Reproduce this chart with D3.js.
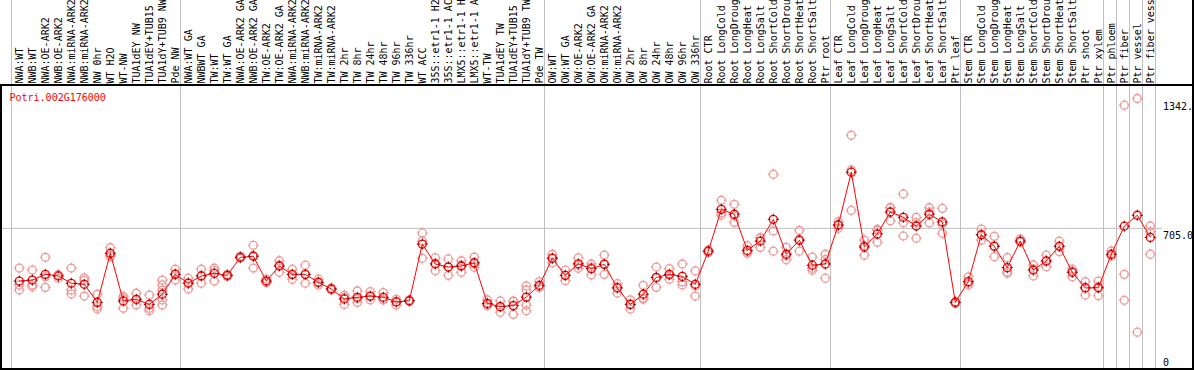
<!DOCTYPE html>
<html>
<head>
<meta charset="utf-8">
<script src="https://cdn.jsdelivr.net/npm/d3@7"></script>
<style>
  body { margin: 0; background: #fff; }
  svg { display: block; font-family: "DejaVu Sans Mono", monospace; font-size: 10px; }
  .sep line, .grid line { stroke: #c0c0c0; }
  .frame { stroke: #000; stroke-width: 1.5; shape-rendering: crispEdges; }
</style>
</head>
<body>
<script>
var sampleLabels = [
  "NWA:WT", "NWB:WT", "NWA:OE-ARK2", "NWB:OE-ARK2", "NWA:miRNA-ARK2", "NWB:miRNA-ARK2",
  "NW 0hr", "WT H2O", "WT-NW", "TUA1dEY NW", "TUA1dEY+TUB15", "TUA1dY+TUB9 NW", "Pde NW",
  "NWA:WT GA", "NWBWT GA", "TW:WT", "TW:WT GA", "NWA:OE-ARK2 GA", "NWB:OE-ARK2 GA",
  "TW:OE-ARK2", "TW:OE-ARK2 GA", "NWA:miRNA-ARK2", "NWB:miRNA-ARK2", "TW:miRNA-ARK2",
  "TW:miRNA-ARK2", "TW 2hr", "TW 8hr", "TW 24hr", "TW 48hr", "TW 96hr", "TW 336hr",
  "WT ACC", "35S::etr1-1 H2O", "35S::etr1-1 ACC", "LMX5::etr1-1 H2O", "LMX5::etr1-1 ACC",
  "WT-TW", "TUA1dEY TW", "TUA1dEY+TUB15", "TUA1dY+TUB9 TW", "Pde TW",
  "OW:WT", "OW:WT GA", "OW:OE-ARK2", "OW:OE-ARK2 GA", "OW:miRNA-ARK2", "OW:miRNA-ARK2",
  "OW 2hr", "OW 8hr", "OW 24hr", "OW 48hr", "OW 96hr", "OW 336hr",
  "Root CTR", "Root LongCold", "Root LongDrought", "Root LongHeat", "Root LongSalt",
  "Root ShortCold", "Root ShortDrought", "Root ShortHeat", "Root ShortSalt", "Ptr root",
  "Leaf CTR", "Leaf LongCold", "Leaf LongDrought", "Leaf LongHeat", "Leaf LongSalt",
  "Leaf ShortCold", "Leaf ShortDrought", "Leaf ShortHeat", "Leaf ShortSalt", "Ptr leaf",
  "Stem CTR", "Stem LongCold", "Stem LongDrought", "Stem LongHeat", "Stem LongSalt",
  "Stem ShortCold", "Stem ShortDrought", "Stem ShortHeat", "Stem ShortSalt", "Ptr shoot", "Ptr xylem",
  "Ptr phloem", "Ptr fiber", "Ptr vessel", "Ptr fiber vessel"
];
// number of samples between the grey separators
var groupSizes = [13, 28, 12, 10, 10, 11, 1, 1, 1, 1];

var meanValues = [
  443, 448, 476, 468, 432, 427, 338, 580, 345, 353, 328, 378, 476,
  432, 468, 481, 471, 560, 565, 443, 517, 476, 476, 437, 404, 355, 363, 369, 363, 340, 346,
  625, 527, 512, 517, 533, 333, 317, 322, 364, 422,
  555, 471, 528, 504, 525, 409, 328, 378, 461, 476, 466, 427,
  590, 796, 772, 594, 640, 747, 575, 644, 521, 527,
  719, 979, 611, 675, 783, 757, 714, 772, 734, 338,
  440, 671, 614, 509, 640, 497, 542, 614, 486, 409, 410,
  575, 713, 767, 658
];

var replicateValues = [
  [507, 424, 399], [497, 424, 415], [560, 464, 412], [473, 457, 473], [507, 399, 379],
  [459, 448, 369], [378, 317, 305], [607, 563, 570], [358, 309, 368], [383, 325, 351],
  [374, 309, 297], [448, 424, 399, 350, 325], [501, 448, 479],
  [457, 404, 435], [501, 432, 471], [506, 443, 494], [471, 466, 476], [560, 555, 565],
  [619, 507, 569], [452, 435, 442], [543, 486, 522], [501, 452, 475], [521, 432, 475],
  [452, 424, 435], [404, 399, 409], [374, 328, 363], [394, 338, 357], [391, 350, 366],
  [386, 350, 353], [353, 325, 342], [350, 344, 344], [680, 555, 640], [557, 494, 530],
  [552, 471, 513], [543, 486, 522], [561, 511, 527], [350, 322, 327], [345, 289, 317],
  [345, 279, 342], [419, 399, 325, 297], [440, 415, 411],
  [575, 533, 557], [497, 445, 471], [557, 506, 521], [527, 473, 512], [571, 476, 528],
  [430, 384, 413], [350, 305, 329], [422, 353, 359], [512, 412, 459], [504, 452, 472],
  [527, 440, 424], [493, 369, 419],
  [596, 583, 591], [841, 768, 779], [821, 732, 763], [617, 580, 585], [656, 609, 655],
  [969, 690, 590], [609, 548, 568], [693, 590, 649], [561, 496, 506], [575, 457, 549],
  [735, 719, 703], [1161, 990, 791], [645, 570, 618], [698, 634, 693], [804, 740, 805],
  [872, 730, 665], [757, 654, 731], [804, 729, 783], [801, 678, 723], [333, 340, 341],
  [464, 424, 432], [699, 644, 670], [663, 563, 616], [558, 481, 488], [650, 635, 635],
  [522, 468, 501], [571, 514, 541], [640, 588, 614], [502, 464, 492], [440, 374, 413],
  [443, 371, 416],
  [591, 567, 567], [1309, 476, 348], [1342, 191], [714, 686, 575]
];

var geneName = "Potri.002G176000";
var yTickValues = [0, 705.0, 1342];
var yTickLabels = ["0", "705.0", "1342."];

var width = 1194;
var height = 370;
var headerH = 85;

var svg = d3.select("body")
    .append("svg")
    .attr("width", width)
    .attr("height", height);

var xScale = d3.scaleLinear()
    .domain([0, sampleLabels.length - 1])
    .range([19.3, 19.3 + 13 * (sampleLabels.length - 1)]);

var yScale = d3.scaleLinear()
    .domain([0, 1342])
    .range([371, 98.5]);

// separator positions: left edge plus the end of each group
var sepX = [xScale(0) - 8.5];
var idx = 0;
groupSizes.forEach(function (n) {
    idx += n;
    sepX.push(xScale(idx - 1) + 5);
});

svg.append("g")
    .attr("class", "sep")
    .selectAll("line")
    .data(sepX)
    .enter()
    .append("line")
    .attr("x1", d => Math.round(d) + 0.5)
    .attr("x2", d => Math.round(d) + 0.5)
    .attr("y1", 0)
    .attr("y2", height);

// horizontal gridline at the middle tick
svg.append("g")
    .attr("class", "grid")
    .attr("transform", "translate(1,0)")
    .call(d3.axisRight(yScale)
        .tickValues([yTickValues[1]])
        .tickSize(1161)
        .tickFormat("")
    )
    .call(g => g.select(".domain").remove());

// sample labels, rotated
svg.append("g")
    .selectAll("text")
    .data(sampleLabels)
    .enter()
    .append("text")
    .attr("transform", (d, i) => "translate(" + (xScale(i) + 3.7) + "," + (headerH - 1.5) + ") rotate(-90)")
    .attr("fill", "#000")
    .text(d => d);

// y axis labels on the right
var yAxis = svg.append("g")
    .attr("transform", "translate(1163,0)")
    .call(d3.axisRight(yScale)
        .tickValues(yTickValues)
        .tickSize(0)
        .tickPadding(0)
        .tickFormat((d, i) => yTickLabels[i])
    );
yAxis.select(".domain").remove();
yAxis.selectAll("text")
    .attr("font-family", "DejaVu Sans Mono, monospace")
    .attr("font-size", 10)
    .attr("fill", "#000")
    .attr("dy", 0)
    .attr("y", d => Math.min(yScale(d) + 11, 365.5) - yScale(d));

function marker(g, color, tick, r) {
    g.append("circle")
        .attr("r", r)
        .attr("fill", "none")
        .attr("stroke", color)
        .attr("stroke-width", 1.3);
    g.append("path")
        .attr("d", "M0," + (-r - 1.5) + "V" + (-r + 1) + "M0," + (r - 1) + "V" + (r + 1.5) +
            "M" + (-r - 1.5) + ",0H" + (-r + 1) + "M" + (r - 1) + ",0H" + (r + 1.5))
        .attr("stroke", tick)
        .attr("stroke-width", 1);
}

// replicates
var reps = [];
replicateValues.forEach(function (vals, i) {
    vals.forEach(function (v) { reps.push([i, v]); });
});
svg.append("g")
    .selectAll("g")
    .data(reps)
    .enter()
    .append("g")
    .attr("transform", d => "translate(" + xScale(d[0]) + "," + yScale(d[1]) + ")")
    .each(function () { marker(d3.select(this), "#ee9a9a", "#ee9a9a", 4); });

// mean line
var line = d3.line()
    .x((d, i) => xScale(i))
    .y(d => yScale(d));

svg.append("path")
    .datum(meanValues)
    .attr("fill", "none")
    .attr("stroke", "#ff0000")
    .attr("stroke-width", 1)
    .attr("d", line);

svg.append("g")
    .selectAll("g")
    .data(meanValues)
    .enter()
    .append("g")
    .attr("transform", (d, i) => "translate(" + xScale(i) + "," + yScale(d) + ")")
    .each(function () { marker(d3.select(this), "#ff0000", "#7a0000", 4); });

// gene title
svg.append("text")
    .attr("x", 9.5)
    .attr("y", 101)
    .attr("fill", "#ff0000")
    .text(geneName);

// frame
svg.append("path")
    .attr("class", "frame")
    .attr("fill", "none")
    .attr("d", "M0," + headerH + "H" + width +
        "M1," + headerH + "V369" +
        "M0,369H" + width +
        "M1193,0V" + height);
</script>
</body>
</html>
